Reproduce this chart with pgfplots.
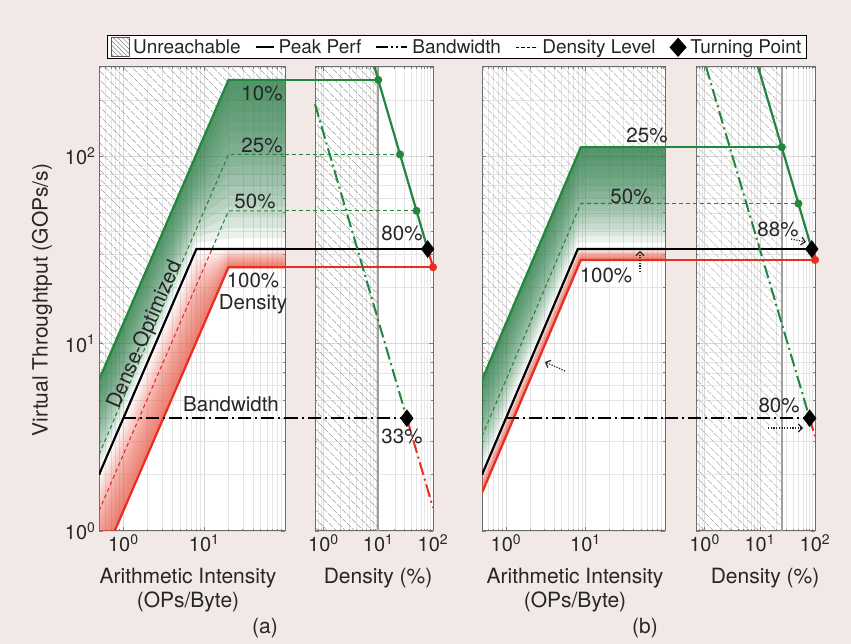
\documentclass[border=0pt]{standalone}
\usepackage{pgfplots}
\pgfplotsset{compat=1.18}
\usetikzlibrary{patterns.meta, arrows.meta}
\usepackage{fontspec}
\setmainfont{TeX Gyre Heros}
\definecolor{bgpink}{RGB}{242,233,231}
\definecolor{txt}{RGB}{38,38,38}
\definecolor{lgreen}{RGB}{34,135,60}
\definecolor{lred}{RGB}{232,45,35}
\definecolor{sgreen}{RGB}{35,120,65}
\definecolor{sred}{RGB}{236,85,65}
\definecolor{hatchgray}{RGB}{140,140,140}
\newcommand{\fs}{\fontsize{20.5}{24}\selectfont}
\newcommand{\fl}{\fontsize{21}{24}\selectfont}
\tikzset{
  hatchfill/.style={draw=none, pattern={Lines[angle=-45,distance=6.5pt,line width=0.7pt]}, pattern color=hatchgray},
  gl/.style={lgreen, line width=2.2pt},
  bl/.style={black, line width=2.2pt},
  rl/.style={lred, line width=2.2pt},
  dens/.style={line width=1.1pt, dash pattern=on 4pt off 3pt},
  dd/.style={line width=2pt, dash pattern=on 13pt off 4pt on 2pt off 4pt},
  gshade/.style={fill=sgreen, fill opacity=0.09, draw=none},
  rshade/.style={fill=sred, fill opacity=0.08, draw=none},
}
\pgfplotsset{
    scale only axis, 
    ymin=1, ymax=300, height=464pt,
    grid=both,
    major grid style={draw=gray!30, line width=0.5pt},
    minor grid style={draw=gray!20, line width=0.4pt},
    axis line style={draw=gray!85!black, line width=1pt},
    tick align=inside, major tick length=4pt, minor tick length=2pt,
    tick style={gray, line width=0.5pt},
    ticklabel style={font=\fontsize{20}{24}\selectfont, text=txt},
    ytick={1,10,100}, yticklabels={},
    minor ytick={2,3,4,5,6,7,8,9,20,30,40,50,60,70,80,90,200,300},
    xtick={1,10,100},
    axis background/.style={fill=white},
}
\begin{document}
\begin{tikzpicture}[x=1pt,y=1pt]
\fill[bgpink] (0,0) rectangle (851,644);

% ---------------- (a) left: roofline ----------------
\begin{loglogaxis}[anchor=south west, at={(99pt,113pt)}, width=186pt,
  xmin=0.5, xmax=100,
  xticklabels={10\textsuperscript{0},10\textsuperscript{1},{}},
  minor xtick={0.5,0.6,0.7,0.8,0.9,2,3,4,5,6,7,8,9,20,30,40,50,60,70,80,90},
  yticklabels={10\textsuperscript{0},10\textsuperscript{1},10\textsuperscript{2}},
  legend columns=5,
  legend cell align=left,
  legend style={at={(axis description cs:1.9247,1.043)}, anchor=center,
    draw=black, line width=0.8pt, fill=white, text=txt,
    font=\fontsize{19}{21}\selectfont,
    inner xsep=3pt, inner ysep=1.5pt,
    /tikz/every even column/.append style={column sep=12pt},
    /tikz/every odd column/.append style={column sep=2pt}},
]
\addlegendimage{legend image code/.code={\draw[draw=gray!70!black, line width=0.6pt, pattern={Lines[angle=-45,distance=3.2pt,line width=0.5pt]}, pattern color=gray] (0pt,-9pt) rectangle (18pt,10pt);}}
\addlegendentry{Unreachable}
\addlegendimage{legend image code/.code={\draw[black,line width=2pt] (0pt,0pt) -- (18pt,0pt);}}
\addlegendentry{Peak Perf}
\addlegendimage{legend image code/.code={\draw[black,line width=2pt,dash pattern=on 12pt off 3pt on 2pt off 3pt on 2pt off 3pt] (0pt,0pt) -- (31pt,0pt);}}
\addlegendentry{Bandwidth}
\addlegendimage{legend image code/.code={\draw[black,line width=1.3pt,dash pattern=on 3.5pt off 2pt] (0pt,0pt) -- (22pt,0pt);}}
\addlegendentry{Density Level}
\addlegendimage{legend image code/.code={\fill[black] (8pt,-9pt) -- (16pt,0pt) -- (8pt,9pt) -- (0pt,0pt) -- cycle;}}
\addlegendentry{Turning Point}

\addplot[hatchfill, forget plot] coordinates {(0.5,6.4) (20,256) (100,256) (100,300) (0.5,300)};
% green shading (10% roofline down towards the dense roofline)
\addplot[gshade, forget plot] coordinates {(0.5,6.4) (20,256) (100,256) (100,224.8) (20,224.8) (8,95.22) (0.5,5.951)};
\addplot[gshade, forget plot] coordinates {(0.5,6.4) (20,256) (100,256) (100,197.4) (20,197.4) (8,88.54) (0.5,5.534)};
\addplot[gshade, forget plot] coordinates {(0.5,6.4) (20,256) (100,256) (100,173.3) (20,173.3) (8,82.33) (0.5,5.146)};
\addplot[gshade, forget plot] coordinates {(0.5,6.4) (20,256) (100,256) (100,152.2) (20,152.2) (8,76.56) (0.5,4.785)};
\addplot[gshade, forget plot] coordinates {(0.5,6.4) (20,256) (100,256) (100,133.7) (20,133.7) (8,71.19) (0.5,4.449)};
\addplot[gshade, forget plot] coordinates {(0.5,6.4) (20,256) (100,256) (100,117.4) (20,117.4) (8,66.20) (0.5,4.138)};
\addplot[gshade, forget plot] coordinates {(0.5,6.4) (20,256) (100,256) (100,103.1) (20,103.1) (8,61.55) (0.5,3.847)};
\addplot[gshade, forget plot] coordinates {(0.5,6.4) (20,256) (100,256) (100,90.51) (20,90.51) (8,57.24) (0.5,3.578)};
\addplot[gshade, forget plot] coordinates {(0.5,6.4) (20,256) (100,256) (100,79.48) (20,79.48) (8,53.22) (0.5,3.327)};
\addplot[gshade, forget plot] coordinates {(0.5,6.4) (20,256) (100,256) (100,69.79) (20,69.79) (8,49.50) (0.5,3.094)};
\addplot[gshade, forget plot] coordinates {(0.5,6.4) (20,256) (100,256) (100,61.29) (20,61.29) (8,46.03) (0.5,2.877)};
\addplot[gshade, forget plot] coordinates {(0.5,6.4) (20,256) (100,256) (100,53.82) (20,53.82) (8,42.80) (0.5,2.675)};
\addplot[gshade, forget plot] coordinates {(0.5,6.4) (20,256) (100,256) (100,47.25) (20,47.25) (8,39.80) (0.5,2.487)};
\addplot[gshade, forget plot] coordinates {(0.5,6.4) (20,256) (100,256) (100,41.50) (20,41.50) (8,37.01) (0.5,2.313)};
\addplot[gshade, forget plot] coordinates {(0.5,6.4) (20,256) (100,256) (100,36.44) (20,36.44) (8,34.41) (0.5,2.151)};
% red shading (100% sparse roofline up towards the dense roofline)
\addplot[rshade, forget plot] coordinates {(0.5,0.64) (20,25.6) (100,25.6) (100,25.96) (20,25.96) (8,10.99) (0.5,0.6872)};
\addplot[rshade, forget plot] coordinates {(0.5,0.64) (20,25.6) (100,25.6) (100,26.32) (20,26.32) (8,11.81) (0.5,0.7379)};
\addplot[rshade, forget plot] coordinates {(0.5,0.64) (20,25.6) (100,25.6) (100,26.70) (20,26.70) (8,12.68) (0.5,0.7924)};
\addplot[rshade, forget plot] coordinates {(0.5,0.64) (20,25.6) (100,25.6) (100,27.06) (20,27.06) (8,13.62) (0.5,0.8507)};
\addplot[rshade, forget plot] coordinates {(0.5,0.64) (20,25.6) (100,25.6) (100,27.45) (20,27.45) (8,14.62) (0.5,0.9138)};
\addplot[rshade, forget plot] coordinates {(0.5,0.64) (20,25.6) (100,25.6) (100,27.83) (20,27.83) (8,15.70) (0.5,0.9812)};
\addplot[rshade, forget plot] coordinates {(0.5,0.64) (20,25.6) (100,25.6) (100,28.22) (20,28.22) (8,16.85) (0.5,1.054)};
\addplot[rshade, forget plot] coordinates {(0.5,0.64) (20,25.6) (100,25.6) (100,28.62) (20,28.62) (8,18.10) (0.5,1.131)};
\addplot[rshade, forget plot] coordinates {(0.5,0.64) (20,25.6) (100,25.6) (100,29.02) (20,29.02) (8,19.44) (0.5,1.215)};
\addplot[rshade, forget plot] coordinates {(0.5,0.64) (20,25.6) (100,25.6) (100,29.43) (20,29.43) (8,20.87) (0.5,1.305)};
\addplot[rshade, forget plot] coordinates {(0.5,0.64) (20,25.6) (100,25.6) (100,29.84) (20,29.84) (8,22.41) (0.5,1.401)};
\addplot[rshade, forget plot] coordinates {(0.5,0.64) (20,25.6) (100,25.6) (100,30.26) (20,30.26) (8,24.07) (0.5,1.504)};
\addplot[rshade, forget plot] coordinates {(0.5,0.64) (20,25.6) (100,25.6) (100,30.69) (20,30.69) (8,25.85) (0.5,1.615)};
\addplot[rshade, forget plot] coordinates {(0.5,0.64) (20,25.6) (100,25.6) (100,31.12) (20,31.12) (8,27.76) (0.5,1.735)};
\addplot[rshade, forget plot] coordinates {(0.5,0.64) (20,25.6) (100,25.6) (100,31.56) (20,31.56) (8,29.80) (0.5,1.863)};
% density levels
\addplot[dens, lgreen, forget plot] coordinates {(0.5,2.56) (20,102.4) (100,102.4)};
\addplot[dens, lred, forget plot] coordinates {(0.5,1.28) (12.5,32)};
\addplot[dens, lgreen, forget plot] coordinates {(12.5,32) (20,51.2) (100,51.2)};
% rooflines
\addplot[gl, forget plot] coordinates {(0.5,6.4) (20,256) (100,256)};
\addplot[rl, forget plot] coordinates {(0.78125,1) (20,25.6) (100,25.6)};
\addplot[bl, forget plot] coordinates {(0.5,2) (8,32) (100,32)};
\addplot[dd, black, forget plot] coordinates {(1,4) (100,4)};
\end{loglogaxis}

% ---------------- (a) right: density ----------------
\begin{loglogaxis}[anchor=south west, at={(315pt,113pt)}, width=118pt,
  xmin=0.7, xmax=100, clip=false,
  xticklabels={10\textsuperscript{0},10\textsuperscript{1},10\textsuperscript{2}},
  minor xtick={0.7,0.8,0.9,2,3,4,5,6,7,8,9,20,30,40,50,60,70,80,90}]
\addplot[hatchfill, forget plot] coordinates {(0.7,1) (10,1) (10,300) (0.7,300)};
\addplot[gray!75, line width=1.6pt, forget plot] coordinates {(10,1) (10,300)};
\addplot[dens, lgreen, forget plot] coordinates {(0.198,102.4) (25,102.4)};
\addplot[dens, lgreen, forget plot] coordinates {(0.198,51.2) (50,51.2)};
\addplot[gl, forget plot] coordinates {(0.198,256) (10,256)};
\addplot[rl, forget plot] coordinates {(0.198,25.6) (100,25.6)};
\addplot[bl, forget plot] coordinates {(0.198,32) (80,32)};
\addplot[dd, black, forget plot] coordinates {(0.198,4) (33.3,4)};
\addplot[dd, lgreen, forget plot] coordinates {(0.7,190) (33.3,4)};
\addplot[dd, lred, forget plot] coordinates {(33.3,4) (100,1.33)};
\addplot[gl, forget plot] coordinates {(8.533,300) (80,32)};
\addplot[rl, forget plot] coordinates {(80,32) (100,25.6)};
\addplot[only marks, mark=*, mark size=3.8pt, mark options={fill=lgreen, draw=lgreen}, forget plot] coordinates {(10,256) (25,102.4) (50,51.2)};
\addplot[only marks, mark=*, mark size=3.8pt, mark options={fill=lred, draw=lred}, forget plot] coordinates {(100,25.6)};
\addplot[only marks, mark=diamond*, mark size=8.5pt, mark options={fill=black, draw=black}, forget plot] coordinates {(80,32) (33.3,4)};
\end{loglogaxis}

% ---------------- (b) left: roofline ----------------
\begin{loglogaxis}[anchor=south west, at={(482pt,113pt)}, width=183pt,
  xmin=0.5, xmax=100,
  xticklabels={10\textsuperscript{0},10\textsuperscript{1},{}},
  minor xtick={0.5,0.6,0.7,0.8,0.9,2,3,4,5,6,7,8,9,20,30,40,50,60,70,80,90}]
\addplot[hatchfill] coordinates {(0.5,6.4) (8.75,112) (100,112) (100,300) (0.5,300)};
\addplot[gshade] coordinates {(0.5,6.4) (8.75,112) (100,112) (100,103.6) (8.75,103.6) (8,95.22) (0.5,5.951)};
\addplot[gshade] coordinates {(0.5,6.4) (8.75,112) (100,112) (100,95.76) (8.75,95.76) (8,88.54) (0.5,5.534)};
\addplot[gshade] coordinates {(0.5,6.4) (8.75,112) (100,112) (100,88.56) (8.75,88.56) (8,82.33) (0.5,5.146)};
\addplot[gshade] coordinates {(0.5,6.4) (8.75,112) (100,112) (100,81.88) (8.75,81.88) (8,76.56) (0.5,4.785)};
\addplot[gshade] coordinates {(0.5,6.4) (8.75,112) (100,112) (100,75.71) (8.75,75.71) (8,71.19) (0.5,4.449)};
\addplot[gshade] coordinates {(0.5,6.4) (8.75,112) (100,112) (100,70.01) (8.75,70.01) (8,66.20) (0.5,4.138)};
\addplot[gshade] coordinates {(0.5,6.4) (8.75,112) (100,112) (100,64.74) (8.75,64.74) (8,61.55) (0.5,3.847)};
\addplot[gshade] coordinates {(0.5,6.4) (8.75,112) (100,112) (100,59.87) (8.75,59.87) (8,57.24) (0.5,3.578)};
\addplot[gshade] coordinates {(0.5,6.4) (8.75,112) (100,112) (100,55.35) (8.75,55.35) (8,53.22) (0.5,3.327)};
\addplot[gshade] coordinates {(0.5,6.4) (8.75,112) (100,112) (100,51.19) (8.75,51.19) (8,49.50) (0.5,3.094)};
\addplot[gshade] coordinates {(0.5,6.4) (8.75,112) (100,112) (100,47.33) (8.75,47.33) (8,46.03) (0.5,2.877)};
\addplot[gshade] coordinates {(0.5,6.4) (8.75,112) (100,112) (100,43.77) (8.75,43.77) (8,42.80) (0.5,2.675)};
\addplot[gshade] coordinates {(0.5,6.4) (8.75,112) (100,112) (100,40.47) (8.75,40.47) (8,39.80) (0.5,2.487)};
\addplot[gshade] coordinates {(0.5,6.4) (8.75,112) (100,112) (100,37.42) (8.75,37.42) (8,37.01) (0.5,2.313)};
\addplot[gshade] coordinates {(0.5,6.4) (8.75,112) (100,112) (100,34.60) (8.75,34.60) (8,34.41) (0.5,2.151)};
\addplot[rshade] coordinates {(0.5,1.6) (8.75,28) (100,28) (100,28.23) (8.75,28.23) (8,25.96) (0.5,1.623)};
\addplot[rshade] coordinates {(0.5,1.6) (8.75,28) (100,28) (100,28.47) (8.75,28.47) (8,26.32) (0.5,1.645)};
\addplot[rshade] coordinates {(0.5,1.6) (8.75,28) (100,28) (100,28.71) (8.75,28.71) (8,26.70) (0.5,1.669)};
\addplot[rshade] coordinates {(0.5,1.6) (8.75,28) (100,28) (100,28.94) (8.75,28.94) (8,27.06) (0.5,1.692)};
\addplot[rshade] coordinates {(0.5,1.6) (8.75,28) (100,28) (100,29.19) (8.75,29.19) (8,27.45) (0.5,1.716)};
\addplot[rshade] coordinates {(0.5,1.6) (8.75,28) (100,28) (100,29.43) (8.75,29.43) (8,27.83) (0.5,1.740)};
\addplot[rshade] coordinates {(0.5,1.6) (8.75,28) (100,28) (100,29.68) (8.75,29.68) (8,28.22) (0.5,1.764)};
\addplot[rshade] coordinates {(0.5,1.6) (8.75,28) (100,28) (100,29.93) (8.75,29.93) (8,28.62) (0.5,1.789)};
\addplot[rshade] coordinates {(0.5,1.6) (8.75,28) (100,28) (100,30.18) (8.75,30.18) (8,29.02) (0.5,1.814)};
\addplot[rshade] coordinates {(0.5,1.6) (8.75,28) (100,28) (100,30.43) (8.75,30.43) (8,29.43) (0.5,1.840)};
\addplot[rshade] coordinates {(0.5,1.6) (8.75,28) (100,28) (100,30.69) (8.75,30.69) (8,29.84) (0.5,1.865)};
\addplot[rshade] coordinates {(0.5,1.6) (8.75,28) (100,28) (100,30.95) (8.75,30.95) (8,30.26) (0.5,1.892)};
\addplot[rshade] coordinates {(0.5,1.6) (8.75,28) (100,28) (100,31.21) (8.75,31.21) (8,30.69) (0.5,1.918)};
\addplot[rshade] coordinates {(0.5,1.6) (8.75,28) (100,28) (100,31.47) (8.75,31.47) (8,31.12) (0.5,1.945)};
\addplot[rshade] coordinates {(0.5,1.6) (8.75,28) (100,28) (100,31.74) (8.75,31.74) (8,31.56) (0.5,1.972)};
\addplot[dens, lgreen] coordinates {(0.5,3.2) (8.75,56) (100,56)};
\addplot[gl] coordinates {(0.5,6.4) (8.75,112) (100,112)};
\addplot[rl] coordinates {(0.5,1.6) (8.75,28) (100,28)};
\addplot[bl] coordinates {(0.5,2) (8,32) (100,32)};
\addplot[dd, black] coordinates {(1,4) (100,4)};
\end{loglogaxis}

% ---------------- (b) right: density ----------------
\begin{loglogaxis}[anchor=south west, at={(696pt,113pt)}, width=119pt,
  xmin=0.7, xmax=100, clip=false,
  xticklabels={10\textsuperscript{0},10\textsuperscript{1},10\textsuperscript{2}},
  minor xtick={0.7,0.8,0.9,2,3,4,5,6,7,8,9,20,30,40,50,60,70,80,90}]
\addplot[hatchfill] coordinates {(0.7,1) (25,1) (25,300) (0.7,300)};
\addplot[gray!75, line width=1.6pt] coordinates {(25,1) (25,300)};
\addplot[dens, lgreen] coordinates {(0.1922,56) (50,56)};
\addplot[gl] coordinates {(0.1922,112) (25,112)};
\addplot[rl] coordinates {(0.1922,28) (100,28)};
\addplot[bl] coordinates {(0.1922,32) (87.5,32)};
\addplot[dd, black] coordinates {(0.1922,4) (80,4)};
\addplot[dd, lgreen] coordinates {(1.0667,300) (80,4)};
\addplot[dd, lred] coordinates {(80,4) (100,3.2)};
\addplot[gl] coordinates {(9.333,300) (87.5,32)};
\addplot[rl] coordinates {(87.5,32) (100,28)};
\addplot[only marks, mark=*, mark size=3.8pt, mark options={fill=lgreen, draw=lgreen}] coordinates {(25,112) (50,56)};
\addplot[only marks, mark=*, mark size=3.8pt, mark options={fill=lred, draw=lred}] coordinates {(100,28)};
\addplot[only marks, mark=diamond*, mark size=8.5pt, mark options={fill=black, draw=black}] coordinates {(87.5,32) (80,4)};
\end{loglogaxis}

% ---------------- texts ----------------
\begin{scope}[every node/.style={text=txt, font=\fs, inner sep=0pt}]
\node at (262,551) {10\%};
\node at (262,499) {25\%};
\node at (255,443) {50\%};
\node at (402,411) {80\%};
\node at (253,364) {100\%};
\node at (253,340) {Density};
\node[rotate=66.7] at (145,309) {Dense-Optimized};
\node at (231,240) {Bandwidth};
\node at (402,208) {33\%};
\node at (647,509) {25\%};
\node at (631,448) {50\%};
\node at (606,369) {100\%};
\node at (778,415) {88\%};
\node at (779,239) {80\%};
\node[font=\fl, align=center] at (188,54) {Arithmetic Intensity\\(OPs/Byte)};
\node[font=\fl, align=center] at (575,54) {Arithmetic Intensity\\(OPs/Byte)};
\node[font=\fl] at (378,66) {Density (\%)};
\node[font=\fl] at (765,66) {Density (\%)};
\node[font=\fl] at (265,16) {(a)};
\node[font=\fl] at (645,16) {(b)};
\node[font=\fl, rotate=90] at (42,344) {Virtual Throughtput (GOPs/s)};
\end{scope}
\begin{scope}[txt, line width=1.2pt, dash pattern=on 1.2pt off 1.5pt, -{Straight Barb[length=4pt,width=8pt]}]
\draw (791,405) -- (806,402);
\draw (768,216) -- (803,216);
\draw (640,372) -- (640,393);
\draw (565,273) -- (545,282);
\end{scope}
\end{tikzpicture}
\end{document}
